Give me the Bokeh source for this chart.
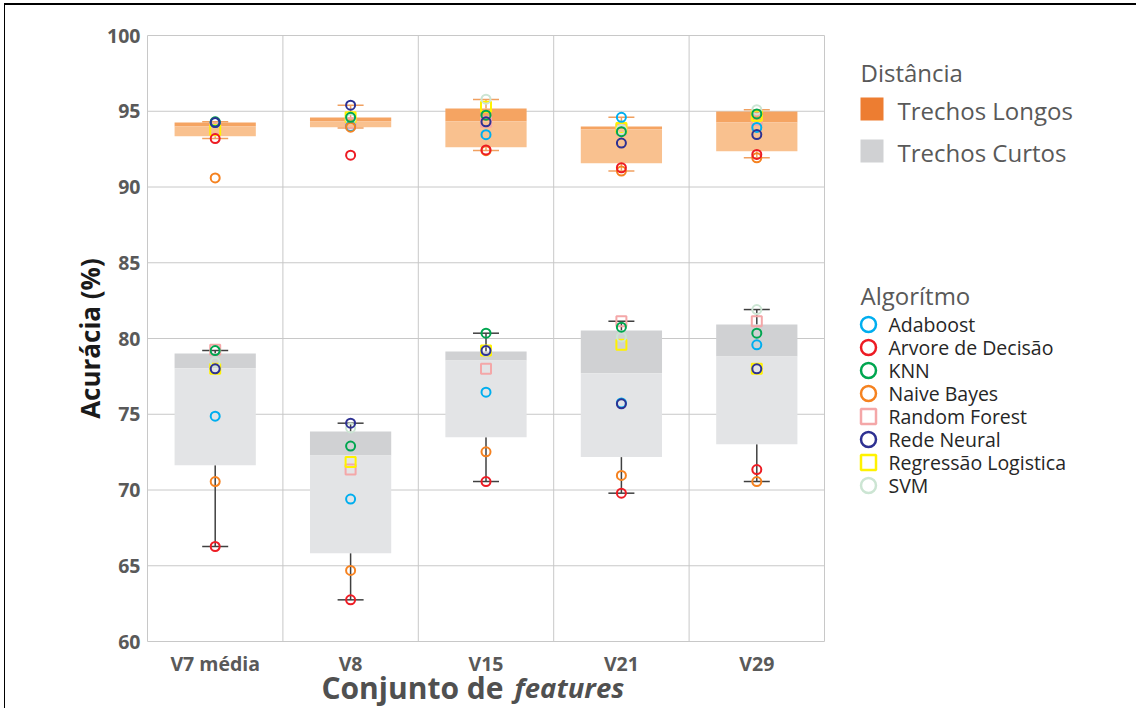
import math
from bokeh.plotting import figure
from bokeh.models import Range1d, Label, FixedTicker, BoxAnnotation
from bokeh.layouts import row
from bokeh.core.properties import value
from bokeh.embed import file_html
from bokeh.resources import INLINE

# ---------------- data ----------------
categories = ["V7 média", "V8", "V15", "V21", "V29"]
y_ticks = [60, 65, 70, 75, 80, 85, 90, 95, 100]

algorithms = ["Adaboost", "Arvore de Decisão", "KNN", "Naive Bayes",
              "Random Forest", "Rede Neural", "Regressão Logistica", "SVM"]
alg_colors = ["#00AEEF", "#ED1C24", "#00A650", "#F58220",
              "#F4A7A8", "#2E3192", "#FFF200", "#CCE5D3"]
alg_markers = ["circle", "circle", "circle", "circle",
               "square", "circle", "square", "circle"]

# accuracy (%) per algorithm for each feature set - long segments
adaboost_long = [94.25, 94.0, 93.45, 94.6, 93.93]
arvore_long = [93.2, 92.1, 92.45, 91.27, 92.15]
knn_long = [94.3, 94.6, 94.74, 93.65, 94.82]
naive_long = [90.6, 93.95, 92.4, 91.05, 91.93]
rforest_long = [93.85, 94.2, 94.3, 93.8, 94.43]
rneural_long = [94.25, 95.4, 94.3, 92.9, 93.46]
reglog_long = [93.76, 94.6, 95.3, 93.9, 94.7]
svm_long = [94.32, 94.5, 95.8, 93.8, 95.1]

# short segments
adaboost_short = [74.87, 69.4, 76.46, 75.75, 79.58]
arvore_short = [66.27, 62.75, 70.56, 69.79, 71.35]
knn_short = [79.2, 72.9, 80.35, 80.75, 80.35]
naive_short = [70.56, 64.69, 72.52, 70.96, 70.56]
rforest_short = [79.25, 71.35, 78.0, 81.14, 81.14]
rneural_short = [78.0, 74.41, 79.2, 75.69, 78.0]
reglog_short = [78.0, 71.84, 79.2, 79.58, 78.0]
svm_short = [78.44, 74.1, 79.19, 80.1, 81.91]

# box statistics
long_q1 = [93.35, 93.95, 92.63, 91.57, 92.36]
long_med = [94.0, 94.32, 94.34, 93.8, 94.26]
long_q3 = [94.26, 94.59, 95.18, 93.99, 94.98]
long_lo = [93.2, 93.9, 92.41, 91.05, 91.93]
long_hi = [94.3, 95.4, 95.78, 94.6, 95.1]

short_q1 = [71.64, 65.83, 73.49, 72.17, 73.02]
short_med = [78.04, 72.28, 78.55, 77.71, 78.81]
short_q3 = [79.01, 73.86, 79.14, 80.53, 80.92]
short_lo = [66.27, 62.75, 70.56, 69.79, 70.56]
short_hi = [79.2, 74.41, 80.35, 81.14, 81.91]

long_values = [adaboost_long, arvore_long, knn_long, naive_long,
               rforest_long, rneural_long, reglog_long, svm_long]
short_values = [adaboost_short, arvore_short, knn_short, naive_short,
                rforest_short, rneural_short, reglog_short, svm_short]

distances = ["Trechos Longos", "Trechos Curtos"]
dist_colors = ["#ED7D31", "#D0D1D3"]

FONT = "Open Sans"

# category positions on a numeric axis (one unit per category)
ncat = len(categories)
xpos = [i + 0.5 for i in range(ncat)]
bounds = list(range(ncat + 1))

# ---------------- layout geometry (pixels) ----------------
W, H = 830, 708
PLOT_LEFT, PLOT_RIGHT = 147, 824     # page x of first / last category edge
PLOT_TOP, PLOT_BOTTOM = 35, 641      # page y of 100 and 60
RIGHT_PAD = 3
px_x = (PLOT_RIGHT - PLOT_LEFT) / ncat
px_y = (PLOT_BOTTOM - PLOT_TOP) / (y_ticks[-1] - y_ticks[0])
x_start = -PLOT_LEFT / px_x
x_end = ncat + RIGHT_PAD / px_x
y_start = y_ticks[0] - (H - PLOT_BOTTOM) / px_y
y_end = y_ticks[-1] + PLOT_TOP / px_y

# ---------------- main plot ----------------
p = figure(x_range=Range1d(x_start, x_end),
           y_range=Range1d(y_start, y_end),
           width=W, height=H,
           output_backend="svg", toolbar_location=None,
           min_border_left=0, min_border_right=W - PLOT_RIGHT - RIGHT_PAD,
           min_border_top=0, min_border_bottom=0)

p.background_fill_color = None
p.border_fill_color = None
p.outline_line_color = None
p.grid.grid_line_color = None
p.yaxis.ticker = y_ticks
p.xaxis.ticker = FixedTicker(ticks=xpos)
p.xaxis.major_label_overrides = {x: c for x, c in zip(xpos, categories)}
p.xaxis.fixed_location = y_ticks[0]
p.yaxis.fixed_location = 0

for ax in (p.xaxis[0], p.yaxis[0]):
    ax.axis_line_color = None
    ax.major_tick_line_color = None
    ax.minor_tick_line_color = None
    ax.major_tick_out = 0
    ax.major_tick_in = 0
    ax.major_label_text_font = FONT
    ax.major_label_text_font_style = "bold"
    ax.major_label_text_font_size = "19.5px"
    ax.major_label_text_color = "#595959"

p.yaxis.major_label_standoff = 7
p.xaxis.major_label_standoff = 8

# plot-area background, grid, frame and category separators
p.add_layout(BoxAnnotation(left=0, right=ncat,
                           bottom=y_ticks[0], top=y_ticks[-1],
                           fill_color="white", fill_alpha=1.0,
                           line_color=None, level="image"))
p.segment(x0=0, y0=y_ticks, x1=ncat, y1=y_ticks,
          line_color="#C8C8C8", line_width=1)
p.segment(x0=bounds, y0=y_ticks[0], x1=bounds, y1=y_ticks[-1],
          line_color="#C8C8C8", line_width=1)

def draw_box(q1, med, q3, lo, hi, dark, light, wcolor):
    p.segment(x0=xpos, y0=q3, x1=xpos, y1=hi,
              line_color=wcolor, line_width=1.5)
    p.segment(x0=xpos, y0=q1, x1=xpos, y1=lo,
              line_color=wcolor, line_width=1.5)
    p.vbar(x=xpos, bottom=med, top=q3, width=0.6,
           fill_color=dark, line_color=None)
    p.vbar(x=xpos, bottom=q1, top=med, width=0.6,
           fill_color=light, line_color=None)
    p.scatter(x=xpos, y=hi, marker="dash", size=26,
              line_color=wcolor, line_width=1.5)
    p.scatter(x=xpos, y=lo, marker="dash", size=26,
              line_color=wcolor, line_width=1.5)

draw_box(long_q1, long_med, long_q3, long_lo, long_hi,
         "#F5A462", "#F9C18F", "#F0A060")
draw_box(short_q1, short_med, short_q3, short_lo, short_hi,
         "#D0D1D3", "#E3E4E6", "#404040")

draw_order = [4, 6, 7, 0, 3, 1, 2, 5]
for k in draw_order:
    size = 10 if alg_markers[k] == "square" else 9
    for vals in (long_values[k], short_values[k]):
        p.scatter(x=xpos, y=vals, marker=alg_markers[k], size=size,
                  fill_color=None, line_color=alg_colors[k], line_width=2)

# y-axis title
p.add_layout(Label(x=0, y=(y_ticks[0] + y_ticks[-1]) / 2, x_offset=-58,
                   angle=math.pi / 2, text="Acurácia (%)",
                   text_align="center", text_baseline="middle",
                   text_font=FONT, text_font_style="bold",
                   text_font_size="26px", text_color="#1A1A1A"))

# x-axis title with italic part
p.add_layout(Label(x=ncat / 2, y=y_ticks[0], x_offset=17.5,
                   y_offset=-46, text="Conjunto de", text_align="right",
                   text_baseline="alphabetic", text_font=FONT,
                   text_font_style="bold", text_font_size="30px",
                   text_color="#505050"))
p.add_layout(Label(x=ncat / 2, y=y_ticks[0], x_offset=28.5,
                   y_offset=-46, text="features", text_align="left",
                   text_baseline="alphabetic", text_font=FONT,
                   text_font_style="bold italic", text_font_size="27.5px",
                   text_color="#505050"))

# ---------------- legend panel ----------------
# its frame is aligned with the main frame; y is measured in page pixels
LW = 306
L = figure(width=LW, height=H, output_backend="svg", toolbar_location=None,
           x_range=Range1d(0, LW), y_range=Range1d(H, 0),
           x_axis_location=None, y_axis_location=None,
           min_border_left=0, min_border_right=0,
           min_border_top=0, min_border_bottom=0)
L.grid.grid_line_color = None
L.outline_line_color = None
L.background_fill_color = None
L.border_fill_color = None

L.text(x=[30, 30], y=[72, 295], text=["Distância", "Algorítmo"],
       text_font=value(FONT), text_font_size="24px", text_color="#595959",
       text_baseline="middle", text_align="left")

dist_y = [108.5 + 42 * i for i in range(len(distances))]
L.scatter(x=[41.5] * len(distances), y=dist_y, marker="square", size=23,
          fill_color=dist_colors, line_color=None)
L.text(x=[67] * len(distances), y=[y + 1 for y in dist_y], text=distances,
       text_font=value(FONT), text_font_size="24px", text_color="#595959",
       text_baseline="middle", text_align="left")

alg_y = [324 + 23 * i for i in range(len(algorithms))]
for k in range(len(algorithms)):
    L.scatter(x=[38], y=[alg_y[k]], marker=alg_markers[k],
              size=15, fill_color=None, line_color=alg_colors[k],
              line_width=2.5)
L.text(x=[58] * len(algorithms), y=alg_y, text=algorithms,
       text_font=value(FONT), text_font_size="19.5px", text_color="#262626",
       text_baseline="middle", text_align="left")

layout = row(p, L, styles={
    "background-color": "#ffffff",
    "box-shadow": "inset 4px 3px 0 0 #ffffff, inset 5px 5px 0 0 #000000",
})

open("out.html", "w").write(file_html(layout, INLINE))
